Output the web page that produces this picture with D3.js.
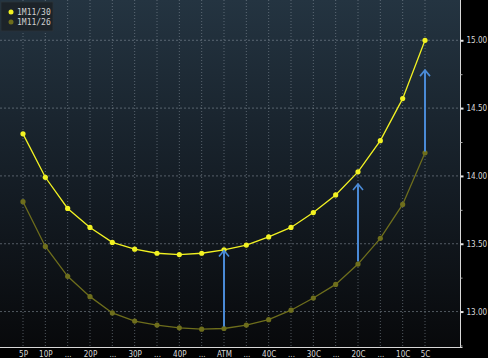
<!DOCTYPE html>
<html><head><meta charset="utf-8">
<script src="https://cdn.jsdelivr.net/npm/d3@7"></script>
<style>body{margin:0;background:#000;}svg{display:block;}</style>
</head><body>
<script>
const categories = ["5P","10P","15P","20P","25P","30P","35P","40P","45P","ATM","45C","40C","35C","30C","25C","20C","15C","10C","5C"];
const tickLabels = ["5P","10P","...","20P","...","30P","...","40P","...","ATM","...","40C","...","30C","...","20C","...","10C","5C"];
const seriesNames = ["1M11/30","1M11/26"];
const series30 = [14.31,13.99,13.76,13.62,13.51,13.46,13.43,13.42,13.43,13.455,13.49,13.55,13.62,13.73,13.86,14.03,14.26,14.57,15.00];
const series26 = [13.81,13.48,13.26,13.11,12.99,12.93,12.90,12.88,12.87,12.875,12.90,12.94,13.01,13.10,13.20,13.35,13.54,13.79,14.17];
const arrowCats = ["ATM","20C","5C"];
const arrowFrom = [12.89,13.37,14.18];
const arrowTo = [13.45,13.94,14.78];
const yTicks = [13.00,13.50,14.00,14.50,15.00];
const yMinorTicks = [12.75,13.25,13.75,14.25,14.75];

const W=488,H=358;
const plotR=460.5, plotB=347.5;
const svg=d3.select("body").append("svg").attr("width",W).attr("height",H);
const defs=svg.append("defs");
const grad=defs.append("linearGradient").attr("id","bg").attr("x1",0).attr("y1",0).attr("x2",0).attr("y2",1);
grad.append("stop").attr("offset","0%").attr("stop-color","#243441");
grad.append("stop").attr("offset","55%").attr("stop-color","#141c24");
grad.append("stop").attr("offset","100%").attr("stop-color","#08090b");
svg.append("rect").attr("width",W).attr("height",H).attr("fill","#000");
svg.append("rect").attr("x",0).attr("y",0).attr("width",plotR).attr("height",plotB).attr("fill","url(#bg)");

const x=d3.scalePoint().domain(categories).range([23,425]);
const y=d3.scaleLinear().domain([12.735,15.297]).range([plotB,0]);

// grid
const g=svg.append("g");
g.selectAll(".vg").data(categories).join("line")
 .attr("x1",d=>x(d)).attr("x2",d=>x(d)).attr("y1",0).attr("y2",plotB)
 .attr("stroke","#8a96a0").attr("stroke-opacity",0.55).attr("stroke-dasharray","1,2").attr("stroke-width",1);
g.selectAll(".hg").data(yTicks).join("line")
 .attr("x1",0).attr("x2",plotR).attr("y1",d=>y(d)).attr("y2",d=>y(d))
 .attr("stroke","#8a96a0").attr("stroke-opacity",0.55).attr("stroke-dasharray","2,2").attr("stroke-width",1);

// axes
const yAxis=d3.axisRight(y).tickValues(yTicks).tickFormat(d3.format(".2f")).tickSize(3).tickPadding(3);
const ya=svg.append("g").attr("transform",`translate(${plotR},0)`).call(yAxis);
ya.select(".domain").attr("stroke","#d8d8d8").attr("d",`M0,0V${plotB}`);
ya.selectAll(".tick line").attr("stroke","#e0e0e0").attr("stroke-width",2);
ya.selectAll(".tick text").attr("fill","#d8d8d8").style("font-family","DejaVu Sans Condensed, DejaVu Sans").style("font-size","8px");
const ym=svg.append("g").attr("transform",`translate(${plotR},0)`).call(d3.axisRight(y).tickValues(yMinorTicks).tickSize(2).tickFormat(""));
ym.select(".domain").remove();
ym.selectAll(".tick line").attr("stroke","#aaa");

const xAxis=d3.axisBottom(x).tickSize(0).tickPadding(4).tickFormat((d,i)=>tickLabels[i]);
const xa=svg.append("g").attr("transform",`translate(0,${plotB})`).call(xAxis);
xa.select(".domain").attr("stroke","#d8d8d8").attr("d",`M0,0H${plotR+2}`);
xa.selectAll(".tick text").attr("fill","#d8d8d8").style("font-family","DejaVu Sans Condensed, DejaVu Sans").style("font-size","8px");

// lines
const line=d3.line().x((d,i)=>x(categories[i])).y(d=>y(d));
const colors=["#f2f222","#6e6e1c"];
[series30,series26].forEach((s,k)=>{
  svg.append("path").datum(s).attr("d",line).attr("fill","none").attr("stroke",colors[k]).attr("stroke-width",1.3);
  svg.selectAll(".pt"+k).data(s).join("circle").attr("cx",(d,i)=>x(categories[i])).attr("cy",d=>y(d)).attr("r",2.6).attr("fill",colors[k]);
});

// arrows
arrowCats.forEach((c,i)=>{
  const ax=x(c), y0=y(arrowFrom[i]), y1=y(arrowTo[i]);
  svg.append("line").attr("x1",ax).attr("x2",ax).attr("y1",y0).attr("y2",y1+1).attr("stroke","#4a8ad6").attr("stroke-width",2);
  svg.append("path").attr("d",`M${ax-5},${y1+6}L${ax},${y1}L${ax+5},${y1+6}`).attr("fill","none").attr("stroke","#4a8ad6").attr("stroke-width",1.6);
});

// legend
const lg=svg.append("g");
lg.append("rect").attr("x",1).attr("y",2).attr("width",52).attr("height",29).attr("fill","#1c2329").attr("stroke","#2c343a").attr("stroke-width",0.8);
seriesNames.forEach((n,i)=>{
  lg.append("circle").attr("cx",11).attr("cy",12+i*10).attr("r",2.5).attr("fill",colors[i]);
  lg.append("text").attr("x",17).attr("y",15+i*10).text(n).attr("fill","#d0d0d0").style("font-family","DejaVu Sans Mono").style("font-size","8px");
});
</script>
</body></html>
